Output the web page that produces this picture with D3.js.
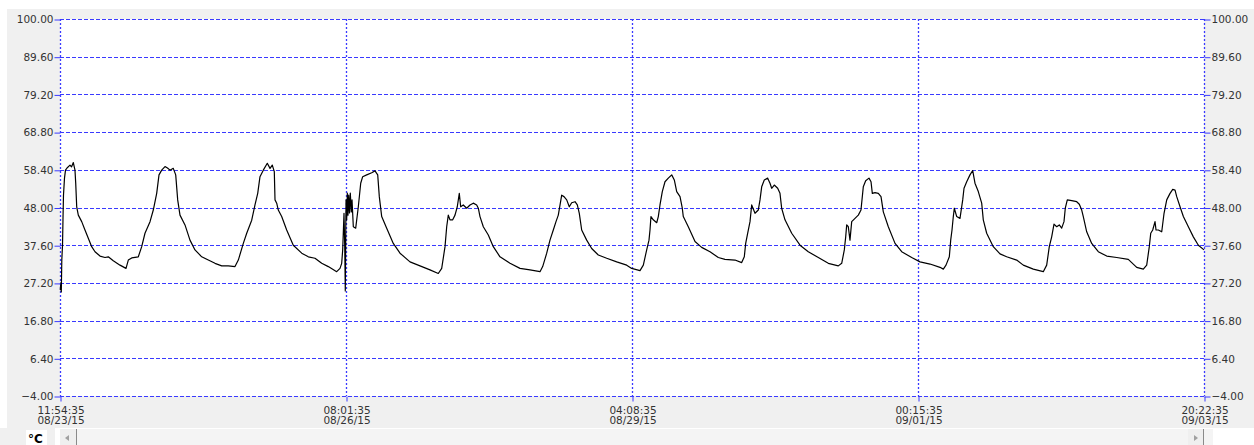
<!DOCTYPE html>
<html>
<head>
<meta charset="utf-8">
<script src="https://cdn.jsdelivr.net/npm/d3@7"></script>
<style>
  html, body { margin: 0; padding: 0; background: #ffffff; }
  svg { display: block; }
  text { font-family: "DejaVu Sans", Verdana, sans-serif; }
</style>
</head>
<body>
<svg id="chart" width="1254" height="445"></svg>
<script>
// ---------------- data ----------------
const startTime = "2015-08-23T11:54:35";
const xTickTimes = ["2015-08-23T11:54:35", "2015-08-26T08:01:35", "2015-08-29T04:08:35", "2015-09-01T00:15:35", "2015-09-03T20:22:35"];
const yTicks = [100, 89.6, 79.2, 68.8, 58.4, 48, 37.6, 27.2, 16.8, 6.4, -4];
const unitLabel = "°C";

// hours elapsed since startTime
const hours = [
  0.07, 0.19, 0.31, 0.43, 0.60, 0.71, 0.83, 1.07, 1.31, 1.67, 2.38, 2.74, 3.17, 3.57, 3.74, 3.98, 4.36, 5.17, 5.95, 6.74,
  7.55, 8.34, 9.53, 10.72, 11.50, 12.69, 14.29, 15.72, 16.27, 17.08, 18.65, 19.46, 20.24, 21.44, 22.22, 23.03, 23.58, 24.22, 25.01, 25.60,
  26.20, 26.98, 27.56, 28.03, 28.58, 29.77, 30.96, 32.15, 33.75, 35.32, 36.92, 38.51, 40.08, 41.68, 42.47, 43.66, 44.47, 45.66, 46.44, 47.09,
  47.63, 48.42, 49.37, 50.02, 50.56, 51.04, 51.21, 51.61, 51.99, 52.80, 53.99, 55.56, 57.57, 59.14, 60.73, 62.33, 63.90, 65.90, 66.69, 67.09,
  67.33, 67.64, 67.81, 67.95, 68.05, 68.12, 68.28, 68.43, 68.59, 68.76, 68.95, 69.14, 69.38, 69.55, 69.86, 70.43, 71.05, 71.62, 72.09, 73.05,
  74.24, 75.02, 75.67, 76.05, 76.62, 77.81, 79.38, 80.98, 83.36, 85.74, 88.12, 90.10, 90.91, 91.70, 92.10, 92.48, 92.88, 93.53, 94.08, 94.62,
  95.10, 95.43, 96.05, 96.86, 97.65, 98.43, 99.24, 99.63, 100.03, 100.82, 102.01, 103.20, 104.79, 107.18, 109.56, 111.94, 114.32, 114.96, 115.92, 116.70,
  117.49, 118.13, 118.68, 119.49, 120.04, 120.68, 121.30, 121.87, 122.66, 123.21, 123.68, 124.25, 125.44, 126.63, 128.21, 130.21, 132.59, 134.97, 136.16, 138.14,
  138.93, 139.73, 140.28, 140.52, 140.75, 141.30, 142.12, 142.50, 142.90, 143.45, 144.09, 144.88, 145.69, 146.31, 146.88, 147.67, 148.21, 148.45, 149.64, 151.24,
  152.83, 154.81, 156.79, 158.38, 160.76, 162.36, 162.98, 163.31, 163.79, 164.34, 164.74, 165.53, 166.31, 166.72, 167.12, 167.74, 168.55, 169.10, 169.50, 170.12,
  170.93, 171.48, 171.88, 172.67, 174.27, 176.25, 178.22, 180.61, 182.99, 185.37, 186.18, 186.80, 187.13, 187.37, 187.75, 188.15, 188.56, 189.35, 190.13, 190.77,
  191.32, 191.89, 192.68, 193.16, 193.47, 194.11, 194.90, 195.54, 196.09, 197.28, 198.88, 200.47, 202.85, 204.83, 207.22, 209.59, 210.38, 211.02, 211.81, 212.14,
  212.45, 212.76, 213.00, 213.57, 214.35, 215.00, 215.31, 215.95, 216.73, 217.38, 217.92, 218.71, 219.52, 219.90, 220.71, 222.28, 223.88, 225.47, 227.85, 229.43,
  231.81, 234.19, 235.00, 235.62, 236.19, 236.74, 237.38, 238.00, 238.57, 239.12, 239.43, 239.91, 240.96, 242.15, 242.77, 243.34, 243.72, 244.53, 245.72, 247.29,
  249.30, 251.68, 254.44, 255.25, 256.44, 258.01, 258.82, 259.44, 259.78, 260.25, 260.80, 261.04, 261.59, 262.40, 262.95, 263.59, 264.38, 265.02, 265.57, 265.97,
  266.76, 267.55, 268.74, 269.93, 271.12, 272.47
];

// temperature, °C
const temps = [
  25.2, 27.2, 24.7, 33.5, 37.6, 44.6, 51.4, 56.1, 58.3, 58.9, 59.7, 59.2, 60.4, 58.3, 54.8, 48.2, 45.9, 44.1, 41.8, 39.5,
  37.2, 35.8, 34.6, 34.2, 34.4, 33.3, 32.1, 31.2, 33.5, 34.1, 34.4, 37.2, 40.9, 44.1, 47.3, 51.9, 57.0, 58.3, 59.3, 58.9,
  58.3, 58.8, 57.0, 50.1, 45.9, 43.2, 39.0, 36.3, 34.4, 33.5, 32.6, 31.9, 31.9, 31.7, 33.5, 38.1, 40.9, 44.5, 48.7, 51.9,
  56.5, 58.3, 60.2, 58.8, 59.7, 57.9, 50.1, 49.2, 47.3, 45.5, 41.8, 37.6, 35.4, 34.4, 34.0, 32.6, 31.7, 30.3, 31.2, 32.6,
  36.3, 46.4, 37.6, 25.0, 39.0, 50.1, 44.6, 52.0, 45.9, 51.4, 46.5, 52.0, 46.8, 50.1, 42.7, 42.3, 48.2, 54.7, 56.5, 57.0,
  57.6, 58.1, 57.0, 51.0, 45.5, 42.3, 38.1, 35.4, 33.0, 31.9, 30.8, 29.8, 31.2, 37.2, 42.7, 45.9, 44.6, 44.6, 45.9, 48.2,
  51.9, 48.2, 48.7, 47.8, 48.7, 49.2, 48.7, 47.8, 45.5, 42.7, 40.4, 37.2, 34.4, 32.6, 31.2, 30.8, 30.3, 31.7, 35.4, 39.0,
  41.8, 44.1, 45.9, 51.4, 51.0, 50.1, 48.2, 49.3, 49.6, 48.7, 46.4, 41.8, 39.0, 36.7, 34.9, 34.0, 33.0, 32.1, 31.2, 30.6,
  32.1, 36.3, 39.0, 41.8, 45.5, 44.6, 43.8, 45.5, 48.7, 52.4, 55.1, 56.1, 57.0, 55.6, 52.4, 51.0, 47.8, 45.5, 42.7, 38.6,
  37.0, 35.8, 34.2, 33.7, 33.5, 32.8, 34.4, 38.1, 40.9, 44.1, 48.7, 46.4, 47.3, 50.1, 53.7, 55.6, 56.1, 54.7, 53.3, 54.2,
  53.3, 51.9, 47.8, 44.6, 40.9, 37.6, 35.8, 34.2, 32.6, 31.9, 32.6, 36.3, 39.9, 43.2, 42.7, 39.0, 44.1, 45.0, 45.9, 47.3,
  53.7, 55.4, 56.1, 55.1, 51.9, 52.1, 51.9, 51.0, 46.8, 42.7, 38.1, 35.8, 34.2, 33.0, 32.4, 31.5, 31.0, 32.1, 34.4, 39.0,
  41.8, 45.5, 47.8, 45.5, 45.0, 50.1, 53.3, 55.1, 57.0, 58.2, 54.7, 52.4, 49.2, 44.6, 40.9, 37.2, 35.2, 34.4, 33.5, 32.1,
  31.0, 30.3, 32.1, 37.2, 39.9, 43.4, 42.7, 43.2, 42.3, 44.1, 47.8, 50.1, 49.9, 49.6, 48.9, 47.3, 45.5, 41.3, 38.1, 35.8,
  34.6, 34.2, 33.7, 32.8, 31.5, 31.0, 32.1, 37.2, 40.9, 41.8, 44.1, 41.8, 41.8, 41.3, 46.4, 50.1, 51.9, 53.0, 52.8, 51.0,
  48.2, 45.5, 42.7, 39.9, 37.6, 36.3
];

// ---------------- drawing ----------------
const parse = d3.timeParse("%Y-%m-%dT%H:%M:%S");
const t0 = parse(startTime);
const series = hours.map((h, i) => ({ t: new Date(t0.getTime() + h * 3600e3), v: temps[i] }));
const xTicks = xTickTimes.map(parse);

const W = 1254, H = 445;
const M = { left: 60, right: 1204, top: 19, bottom: 396 };

const svg = d3.select("#chart");

// panel background
svg.append("rect").attr("x", 7).attr("y", 9).attr("width", W - 7).attr("height", 419).attr("fill", "#f0f0f0");
// scroll bar strip
svg.append("rect").attr("x", 0).attr("y", 428).attr("width", W).attr("height", H - 428).attr("fill", "#ffffff");
svg.append("rect").attr("x", 60).attr("y", 429).attr("width", 1153).attr("height", 16).attr("fill", "#f4f4f4");
svg.append("rect").attr("x", 60).attr("y", 429).attr("width", 17).attr("height", 16).attr("fill", "#efefef");
svg.append("line").attr("x1", 76.5).attr("x2", 76.5).attr("y1", 429).attr("y2", 445).attr("stroke", "#8a8a8a");
svg.append("path").attr("d", "M69,435 L65,438 L69,441 Z").attr("fill", "#a0a0a0");
svg.append("rect").attr("x", 1188).attr("y", 429).attr("width", 16).attr("height", 16).attr("fill", "#efefef");
svg.append("line").attr("x1", 1203.5).attr("x2", 1203.5).attr("y1", 429).attr("y2", 445).attr("stroke", "#8a8a8a");
svg.append("path").attr("d", "M1194,435 L1198,438 L1194,441 Z").attr("fill", "#a0a0a0");
svg.append("rect").attr("x", 1213).attr("y", 429).attr("width", W - 1213).attr("height", 16).attr("fill", "#ffffff");
svg.append("rect").attr("x", 0).attr("y", 428).attr("width", 55).attr("height", 17).attr("fill", "#f0f0f0");
svg.append("rect").attr("x", 26).attr("y", 430).attr("width", 21).attr("height", 15).attr("fill", "#ffffff");
svg.append("text").attr("x", 28).attr("y", 443).attr("font-size", 12).attr("font-weight", "bold")
   .attr("fill", "#000").text(unitLabel);

// plot area
svg.append("rect").attr("x", M.left).attr("y", M.top).attr("width", M.right - M.left)
   .attr("height", M.bottom - M.top).attr("fill", "#ffffff");

const x = d3.scaleTime().domain([xTicks[0], xTicks[xTicks.length - 1]]).range([M.left, M.right]);
const y = d3.scaleLinear().domain([-4, 100]).range([M.bottom, M.top]);

const gridColor = "#3a3aff";
// horizontal grid
svg.append("g").selectAll("line").data(yTicks).join("line")
  .attr("x1", M.left).attr("x2", M.right)
  .attr("y1", d => Math.round(y(d)) + 0.5).attr("y2", d => Math.round(y(d)) + 0.5)
  .attr("stroke", gridColor).attr("stroke-width", 1).attr("stroke-dasharray", "4,2");
// vertical grid
svg.append("g").selectAll("line").data(xTicks).join("line")
  .attr("x1", d => Math.round(x(d)) + 0.5).attr("x2", d => Math.round(x(d)) + 0.5)
  .attr("y1", M.top).attr("y2", M.bottom)
  .attr("stroke", gridColor).attr("stroke-width", 1.3).attr("stroke-dasharray", "2,2");

// series line
const line = d3.line().x(d => x(d.t)).y(d => y(d.v));
svg.append("path").datum(series).attr("d", line)
  .attr("fill", "none").attr("stroke", "#000").attr("stroke-width", 1.2).attr("stroke-linejoin", "round");

// axes
const fmt = d3.format(".2f");
const textColor = "#333";
const leftAxis = svg.append("g").attr("transform", `translate(${M.left + 0.5},0.5)`)
  .call(d3.axisLeft(y).tickValues(yTicks).tickFormat(fmt).tickSize(6).tickPadding(1));
const rightAxis = svg.append("g").attr("transform", `translate(${M.right + 0.5},0.5)`)
  .call(d3.axisRight(y).tickValues(yTicks).tickFormat(fmt).tickSize(6).tickPadding(1));
const bottomAxis = svg.append("g").attr("transform", `translate(0.5,${M.bottom + 0.5})`)
  .call(d3.axisBottom(x).tickValues(xTicks).tickSize(5).tickFormat(() => ""));

[leftAxis, rightAxis, bottomAxis].forEach(g => {
  g.select(".domain").remove();
  g.selectAll(".tick line").attr("stroke", gridColor).attr("stroke-width", 1);
  g.selectAll("text").attr("font-family", "DejaVu Sans, Verdana, sans-serif")
    .attr("font-size", 10.5).attr("fill", textColor);
});

const fTime = d3.timeFormat("%H:%M:%S"), fDate = d3.timeFormat("%m/%d/%y");
bottomAxis.selectAll(".tick").append("text")
  .attr("text-anchor", "middle").attr("font-size", 10.5).attr("fill", textColor)
  .attr("font-family", "DejaVu Sans, Verdana, sans-serif")
  .each(function(d) {
    const t = d3.select(this);
    t.append("tspan").attr("x", 0).attr("y", 17).text(fTime(d));
    t.append("tspan").attr("x", 0).attr("y", 27).text(fDate(d));
  });
</script>
</body>
</html>
